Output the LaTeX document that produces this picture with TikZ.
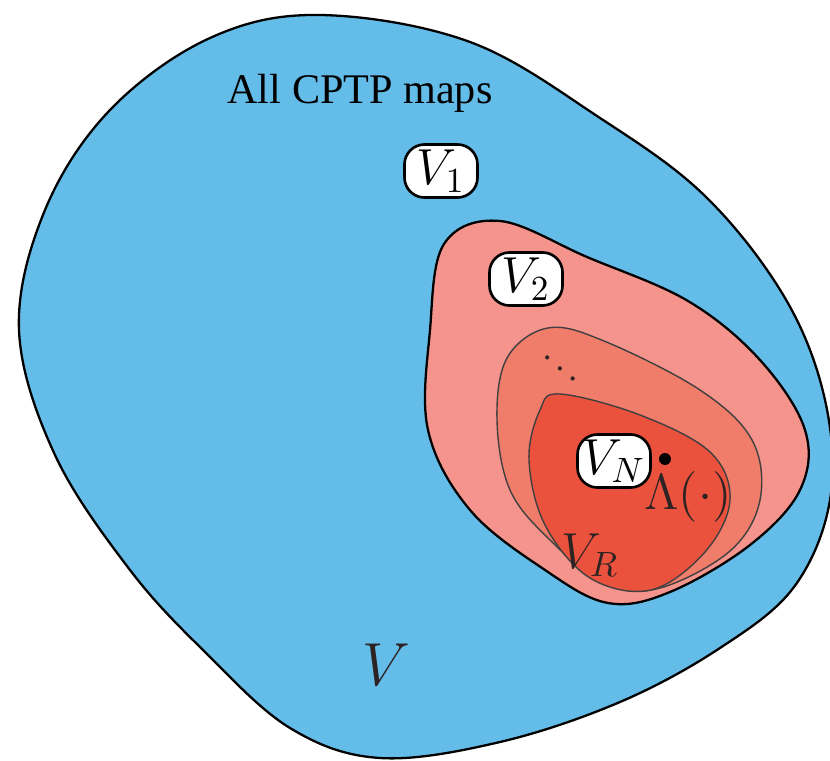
\documentclass[tikz,border=0pt]{standalone}
\usepackage{fontspec}
\setmainfont{Liberation Serif}
\usepackage{tikz}
\usetikzlibrary{positioning}
\definecolor{cptpBlue}{RGB}{100,189,233}
\definecolor{setPinkA}{RGB}{245,148,141}
\definecolor{setPinkB}{RGB}{240,124,106}
\definecolor{setRed}{RGB}{235,82,62}
\definecolor{setInk}{RGB}{45,35,35}

\begin{document}
\begin{tikzpicture}[x=0.01cm, y=-0.01cm,
    outerset/.style={draw=black, line width=0.65pt},
    innerset/.style={draw=black!75, line width=0.4pt},
    vbox/.style={rectangle, draw=black, line width=0.75pt, fill=white,
        rounded corners=2mm, minimum width=7.3mm, minimum height=5.3mm,
        inner sep=1pt, font=\Large},
    lbl/.style={font=\Large, text=setInk}
]
\useasboundingbox (0,0) rectangle (830,761);
\clip (0,0) rectangle (830,761);

% all CPTP maps
\draw[outerset, fill=cptpBlue] plot[smooth cycle, tension=0.6] coordinates {
    (320,15) (470,42) (600,118) (705,196) (785,298) (825,400) (830,500)
    (794,587) (720,648) (620,702) (500,742) (380,758) (290,728) (205,652)
    (130,570) (55,455) (19,330) (45,210) (110,110) (210,38)};

% nested sets
\draw[outerset, fill=setPinkA] plot[smooth cycle, tension=0.6] coordinates {
    (444,244) (500,221) (587,257) (688,301) (760,360) (805,430) (800,490)
    (750,545) (670,592) (608,603) (545,570) (470,510) (428,430) (430,330)};
\draw[innerset, fill=setPinkB] plot[smooth cycle, tension=0.6] coordinates {
    (507,358) (548,328) (604,341) (700,390) (752,440) (760,500) (730,551)
    (660,588) (605,584) (550,540) (510,490) (497,420)};
\draw[innerset, fill=setRed] plot[smooth cycle, tension=0.6] coordinates {
    (560,394) (640,415) (710,452) (730,500) (705,552) (651,590) (590,578)
    (545,525) (529,460) (540,410)};

% labels
\node[font=\large] (all) at (360,93) {All CPTP maps};
\node[vbox] (v1) at (441,171) {$V_1$};
\node[vbox] (v2) at (526,279) {$V_2$};
\node[vbox] (vn) at (614,461) {$V_N$};
\node[text=setInk] (dots) at (560,358) {$\ddots$};
\node[circle, fill=black, inner sep=0pt, minimum size=3.4pt] (lam) at (665,459) {};
\node[lbl] (lamlbl) at (688,497) {$\Lambda(\cdot)$};
\node[lbl] (vr) at (590,555) {$V_R$};
\node[font=\LARGE, text=setInk] (v) at (386,665) {$V$};
\end{tikzpicture}
\end{document}
